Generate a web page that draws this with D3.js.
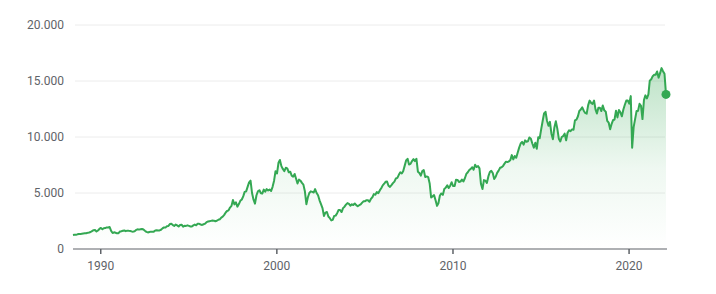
<!DOCTYPE html>
<html>
<head>
<meta charset="utf-8">
<script src="https://cdn.jsdelivr.net/npm/d3@7"></script>
<style>
  body { margin: 0; background: #fff; }
  text { font-family: Roboto, Arial, sans-serif; }
</style>
</head>
<body>
<div id="container"></div>
<script>
// Chart size
var width = 716,
  height = 294;

// Monthly index level, first point is mid June 1988
const startMonth = new Date(1988, 5, 15);
const values = [
  1250, 1280, 1265, 1310, 1340, 1330, 1360,
  1380, 1400, 1415, 1445, 1480, 1520, 1600, 1680, 1690, 1560, 1650, 1790,
  1880, 1760, 1850, 1870, 1930, 1920, 1960, 1620, 1430, 1490, 1450, 1400,
  1410, 1560, 1590, 1630, 1660, 1590, 1640, 1620, 1610, 1570, 1550, 1590,
  1700, 1760, 1730, 1770, 1790, 1740, 1630, 1530, 1480, 1520, 1550, 1545,
  1550, 1650, 1670, 1650, 1660, 1720, 1840, 1930, 1910, 2040, 2060, 2230,
  2260, 2130, 2060, 2180, 2110, 2010, 2140, 2170, 1990, 2070, 2060, 2110,
  2060, 2010, 2000, 2110, 2180, 2120, 2260, 2250, 2190, 2150, 2210, 2260,
  2400, 2450, 2480, 2510, 2540, 2530, 2480, 2520, 2610, 2650, 2810, 2890,
  3050, 3260, 3390, 3450, 3700, 3850, 4380, 3980, 4170, 3780, 4010, 4300,
  4420, 4720, 5100, 5150, 5550, 5950, 6100, 5000, 4400, 4050, 4800, 5150,
  5250, 4980, 4950, 5300, 5120, 5350, 5220, 5310, 5180, 5550, 6100, 6950,
  6750, 7700, 7950, 7400, 7150, 6950, 7250, 7200, 6850, 6900, 6550, 6450,
  6700, 6250, 5850, 6200, 6100, 5900, 5750, 5150, 4000, 4600, 5000, 5150,
  5100, 5050, 5350, 5000, 4800, 4350, 4000, 3650, 2950, 3250, 3300, 2900,
  2750, 2550, 2600, 2950, 2980, 3200, 3480, 3480, 3300, 3650, 3780, 3960,
  4100, 4030, 3870, 3990, 3930, 4060, 3920, 3820, 3910, 3980, 4140, 4260,
  4270, 4360, 4350, 4220, 4470, 4620, 4900, 4850, 5080, 4980, 5230, 5420,
  5680, 5830, 6000, 6020, 5650, 5550, 5700, 5880, 6020, 6300, 6350, 6620,
  6850, 6750, 6950, 7420, 7900, 8050, 7550, 7600, 7850, 8020, 7850, 8060,
  6900, 6780, 6550, 6950, 7050, 6420, 6480, 6420, 5850, 4600, 4700, 4810,
  4350, 3850, 4080, 4780, 4960, 4830, 5350, 5480, 5690, 5440, 5650, 5960,
  5620, 5620, 6180, 6170, 5990, 6020, 6200, 6030, 6320, 6700, 6850, 7050,
  7150, 7300, 7080, 7520, 7320, 7400, 7200, 5800, 5350, 6150, 6100, 5900,
  6480, 6880, 6980, 6780, 6250, 6450, 6800, 7000, 7250, 7300, 7420, 7620,
  7800, 7760, 7820, 7940, 8380, 8000, 8300, 8150, 8620, 9050, 9420, 9560,
  9320, 9700, 9580, 9620, 9960, 9850, 9420, 9050, 9480, 8950, 9980, 9900,
  10700, 11450, 12100, 12250, 11450, 11000, 11350, 10300, 9800, 10850, 11400, 10750,
  9850, 9600, 10000, 10080, 10300, 9700, 10380, 10600, 10520, 10680, 10650, 11480,
  11550, 11850, 12320, 12450, 12650, 12350, 12150, 12080, 12850, 13250, 13050, 12950,
  13250, 12450, 12100, 12620, 12620, 12320, 12820, 12380, 12260, 11450, 11280, 10700,
  11180, 11530, 11550, 12350, 11750, 12420, 12200, 11850, 12450, 12880, 13250, 13260,
  12980, 13650, 9050, 10880, 11600, 12320, 12330, 12960, 12780, 11600, 13300, 13720,
  13450, 13800, 15020, 15150, 15430, 15550, 15560, 15850, 15300, 15700, 16150, 15880,
  15650, 13800
];

// Axis ticks
const yTicks = [0, 5000, 10000, 15000, 20000];
const xTickYears = [1990, 2000, 2010, 2020];

var data = values.map(function (v, i) {
  return { date: d3.timeMonth.offset(startMonth, i), value: v };
});

var svg = d3.select('#container').append('svg').attr('width', width).attr('height', height);

var x = d3.scaleTime()
  .domain([data[0].date, data[data.length - 1].date])
  .range([73, 666]);

var y = d3.scaleLinear().domain([0, 20000]).range([249, 25]);

var fmt = d3.formatLocale({ decimal: ',', thousands: '.', grouping: [3], currency: ['', '€'] }).format(',.0f');

// Gridlines
svg.append('g')
  .selectAll('line')
  .data(yTicks.slice(1))
  .enter()
  .append('line')
  .attr('x1', 75)
  .attr('x2', 665)
  .attr('y1', function (d) { return y(d); })
  .attr('y2', function (d) { return y(d); })
  .attr('stroke', '#ececec')
  .attr('stroke-width', 1);

// Y labels
svg.append('g')
  .selectAll('text')
  .data(yTicks)
  .enter()
  .append('text')
  .attr('x', 64)
  .attr('y', function (d) { return y(d); })
  .attr('dy', '0.35em')
  .attr('text-anchor', 'end')
  .attr('fill', '#5f6368')
  .style('font-size', '12px')
  .text(function (d) { return fmt(d); });

// Gradient under the line
var defs = svg.append('defs');
var grad = defs.append('linearGradient')
  .attr('id', 'areaGrad')
  .attr('gradientUnits', 'userSpaceOnUse')
  .attr('x1', 0).attr('x2', 0)
  .attr('y1', y(16000)).attr('y2', y(0));
grad.append('stop').attr('offset', '0%').attr('stop-color', '#34a853').attr('stop-opacity', 0.32);
grad.append('stop').attr('offset', '55%').attr('stop-color', '#34a853').attr('stop-opacity', 0.08);
grad.append('stop').attr('offset', '100%').attr('stop-color', '#34a853').attr('stop-opacity', 0);

var area = d3.area()
  .x(function (d) { return x(d.date); })
  .y0(y(0))
  .y1(function (d) { return y(d.value); });

svg.append('path').datum(data).attr('d', area).attr('fill', 'url(#areaGrad)');

var line = d3.line()
  .x(function (d) { return x(d.date); })
  .y(function (d) { return y(d.value); });

svg.append('path')
  .datum(data)
  .attr('d', line)
  .attr('fill', 'none')
  .attr('stroke', '#34a853')
  .attr('stroke-width', 2)
  .attr('stroke-linejoin', 'round');

// X axis
var xAxis = d3.axisBottom(x)
  .tickValues(xTickYears.map(function (yr) { return new Date(yr, 0, 1); }))
  .tickFormat(d3.timeFormat('%Y'))
  .tickSize(5)
  .tickPadding(7);

svg.append('g')
  .attr('transform', 'translate(0,' + y(0) + ')')
  .call(xAxis)
  .call(function (g) {
    g.select('.domain').attr('stroke', '#5f6368').attr('stroke-width', 1.2).attr('d', 'M73,0H667');
    g.selectAll('.tick line').attr('stroke', '#5f6368').attr('stroke-width', 1.5);
    g.selectAll('.tick text').attr('fill', '#5f6368').style('font-size', '12px').style('font-family', 'Roboto, Arial, sans-serif');
  });

// Last value dot
var last = data[data.length - 1];
svg.append('circle')
  .attr('cx', x(last.date))
  .attr('cy', y(last.value))
  .attr('r', 4.5)
  .attr('fill', '#34a853');
</script>
</body>
</html>
